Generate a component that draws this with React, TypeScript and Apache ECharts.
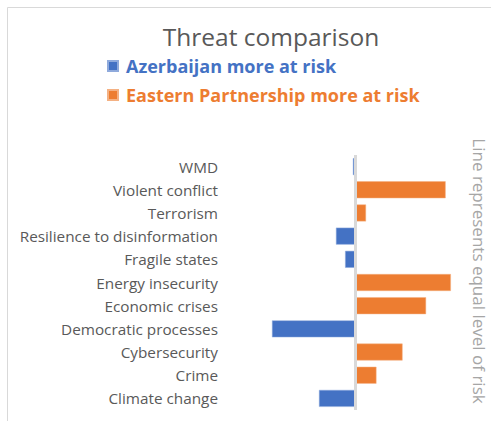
import React, { useEffect, useRef } from "react";
import * as echarts from "echarts";

const categories = [
  "WMD",
  "Violent conflict",
  "Terrorism",
  "Resilience to disinformation",
  "Fragile states",
  "Energy insecurity",
  "Economic crises",
  "Democratic processes",
  "Cybersecurity",
  "Crime",
  "Climate change",
];
const azerbaijanValues = [-0.02, null, null, -0.15, -0.08, null, null, -0.64, null, null, -0.28];
const easternPartnershipValues = [null, 0.69, 0.08, null, null, 0.73, 0.54, null, 0.36, 0.16, null];
const seriesNames = ["Azerbaijan more at risk", "Eastern Partnership more at risk"];
const titleText = "Threat comparison";
const noteText = "Line represents equal level of risk";

const BLUE = "#4472C4";
const ORANGE = "#ED7D31";
const FONT = "'Open Sans', 'Noto Sans', sans-serif";

export default function App() {
  const ref = useRef<HTMLDivElement>(null);
  useEffect(() => {
    if (!ref.current) return;
    const chart = echarts.init(ref.current, undefined, { renderer: "svg" });
    chart.setOption({
      animation: false,
      backgroundColor: "#ffffff",
      textStyle: { fontFamily: FONT },
      title: {
        text: titleText,
        left: 266,
        textAlign: "center",
        top: 19,
        textStyle: { fontSize: 24.5, fontWeight: "normal", color: "#595959", fontFamily: FONT },
      },
      legend: {
        orient: "vertical",
        left: 102,
        top: 52,
        itemWidth: 10,
        itemHeight: 10,
        itemGap: 11,
        icon: "rect",
        data: [
          { name: seriesNames[0], textStyle: { color: BLUE } },
          { name: seriesNames[1], textStyle: { color: ORANGE } },
        ],
        textStyle: { fontSize: 18, fontWeight: "bold", fontFamily: FONT, padding: [0, 0, 0, 3] },
      },
      grid: { left: 225, right: 31, top: 155, bottom: 11, containLabel: false },
      xAxis: {
        type: "value",
        min: -1,
        max: 0.8,
        show: false,
      },
      yAxis: {
        type: "category",
        data: categories,
        inverse: true,
        axisLine: { show: false, onZero: false },
        axisTick: { show: false },
        axisLabel: { color: "#595959", fontSize: 15.3, margin: 7, fontFamily: FONT },
      },
      series: [
        {
          name: seriesNames[0],
          type: "bar",
          stack: "risk",
          data: azerbaijanValues,
          barCategoryGap: "27%",
          itemStyle: { color: BLUE, borderColor: "#8faadc", borderWidth: 0.5 },
          markLine: {
            silent: true,
            symbol: "none",
            label: { show: false },
            lineStyle: { color: "#d9d9d9", width: 3, type: "solid" },
            data: [{ xAxis: 0 }],
            z: 10,
          },
        },
        {
          name: seriesNames[1],
          type: "bar",
          stack: "risk",
          data: easternPartnershipValues,
          barCategoryGap: "27%",
          itemStyle: { color: ORANGE, borderColor: "#f4b183", borderWidth: 0.5 },
        },
      ],
      graphic: [
        {
          type: "rect",
          shape: { x: 7.5, y: 7.5, width: 520, height: 440 },
          style: { fill: "none", stroke: "#d9d9d9", lineWidth: 1 },
          silent: true,
          z: -1,
        },
        {
          type: "text",
          x: 479,
          y: 271,
          rotation: -Math.PI / 2,
          style: {
            text: noteText,
            fill: "#a6a6a6",
            fontSize: 17,
            fontFamily: FONT,
            align: "center",
            verticalAlign: "middle",
          },
          silent: true,
        },
      ],
    });
    return () => chart.dispose();
  }, []);
  return <div ref={ref} style={{ width: 491, height: 421, position: "absolute", left: 0, top: 0 }} />;
}
